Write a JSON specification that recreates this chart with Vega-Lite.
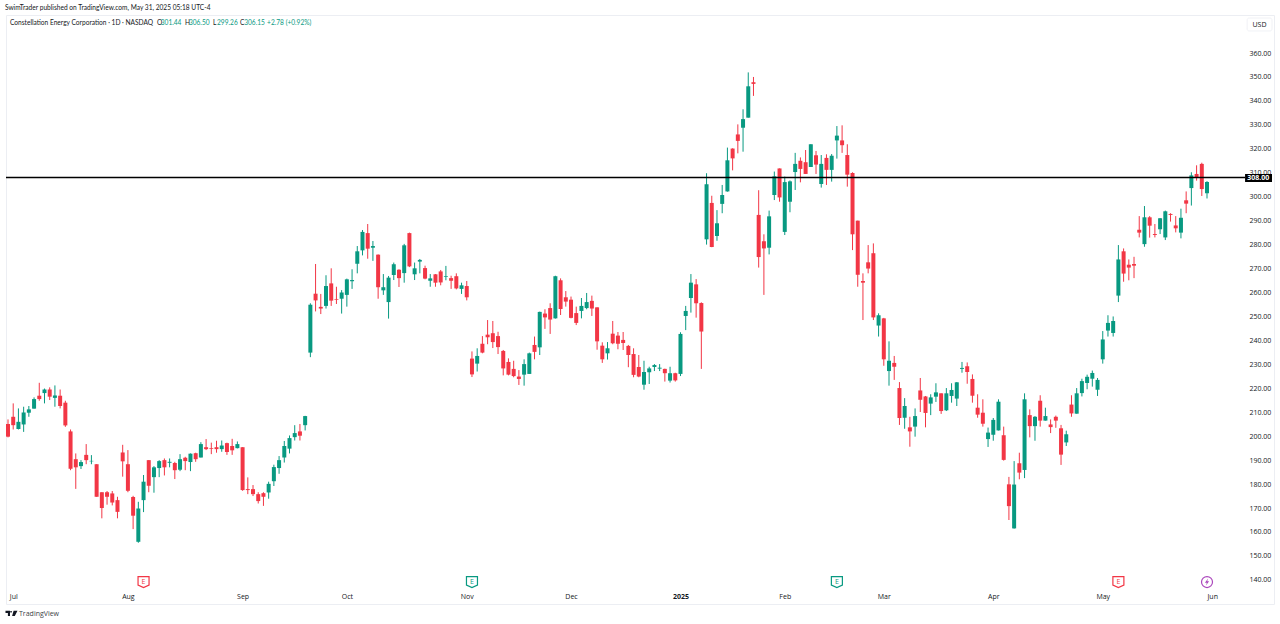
{"$schema":"https://vega.github.io/schema/vega-lite/v6.json","autosize":{"type":"none"},"padding":{"left":6,"top":15,"right":6,"bottom":20},"width":1268,"height":589,"background":"#ffffff","view":{"stroke":"#eceef3"},"config":{"font":"Open Sans"},
"datasets":{"ohlc":[
{"bar":0,"open":205.1,"high":207.0,"low":199.5,"close":199.8},{"bar":1,"open":208.1,"high":213.7,"low":202.8,"close":204.6},{"bar":2,"open":203.0,"high":211.6,"low":202.8,"close":206.0},{"bar":3,"open":204.9,"high":212.3,"low":201.8,"close":209.9},{"bar":4,"open":209.8,"high":212.6,"low":208.1,"close":211.2},{"bar":5,"open":211.5,"high":216.2,"low":211.5,"close":215.5},{"bar":6,"open":216.9,"high":222.3,"low":214.8,"close":215.5},{"bar":7,"open":218.0,"high":219.9,"low":213.7,"close":219.5},{"bar":8,"open":219.5,"high":220.4,"low":215.1,"close":216.5},{"bar":9,"open":216.0,"high":221.2,"low":212.3,"close":217.0},
{"bar":10,"open":216.9,"high":219.5,"low":211.6,"close":212.6},{"bar":11,"open":214.0,"high":214.8,"low":203.9,"close":204.5},{"bar":12,"open":202.0,"high":202.8,"low":185.8,"close":186.4},{"bar":13,"open":190.4,"high":192.8,"low":178.0,"close":187.0},{"bar":14,"open":187.5,"high":190.0,"low":186.3,"close":189.2},{"bar":15,"open":192.2,"high":196.7,"low":188.3,"close":190.0},{"bar":16,"open":189.5,"high":192.1,"low":188.3,"close":189.7},{"bar":17,"open":188.3,"high":188.3,"low":174.7,"close":174.7},{"bar":18,"open":176.6,"high":176.6,"low":165.7,"close":170.0},{"bar":19,"open":176.6,"high":177.1,"low":171.4,"close":174.7},
{"bar":20,"open":176.1,"high":177.1,"low":171.1,"close":172.3},{"bar":21,"open":173.3,"high":174.7,"low":165.7,"close":168.4},{"bar":22,"open":193.2,"high":196.4,"low":183.1,"close":189.5},{"bar":23,"open":188.3,"high":194.2,"low":176.6,"close":177.2},{"bar":24,"open":174.6,"high":175.1,"low":161.2,"close":166.8},{"bar":25,"open":155.9,"high":172.6,"low":155.5,"close":169.8},{"bar":26,"open":173.3,"high":183.8,"low":168.3,"close":181.0},{"bar":27,"open":190.0,"high":190.0,"low":176.6,"close":179.3},{"bar":28,"open":182.9,"high":187.5,"low":176.4,"close":187.0},{"bar":29,"open":186.7,"high":190.0,"low":182.9,"close":189.6},
{"bar":30,"open":190.0,"high":190.7,"low":183.6,"close":187.0},{"bar":31,"open":188.9,"high":190.7,"low":187.0,"close":189.3},{"bar":32,"open":188.8,"high":189.3,"low":182.1,"close":185.8},{"bar":33,"open":186.0,"high":192.5,"low":185.4,"close":190.4},{"bar":34,"open":191.0,"high":191.4,"low":185.8,"close":189.6},{"bar":35,"open":189.2,"high":192.8,"low":185.4,"close":192.7},{"bar":36,"open":192.9,"high":193.1,"low":189.3,"close":190.4},{"bar":37,"open":191.1,"high":197.5,"low":191.1,"close":196.7},{"bar":38,"open":195.4,"high":198.8,"low":194.2,"close":194.6},{"bar":39,"open":195.0,"high":197.3,"low":192.5,"close":194.7},
{"bar":40,"open":195.4,"high":198.1,"low":193.1,"close":194.6},{"bar":41,"open":194.6,"high":198.2,"low":193.5,"close":196.1},{"bar":42,"open":197.1,"high":197.3,"low":192.2,"close":193.4},{"bar":43,"open":195.9,"high":198.9,"low":192.2,"close":194.1},{"bar":44,"open":195.0,"high":197.8,"low":194.9,"close":196.7},{"bar":45,"open":195.4,"high":195.4,"low":177.2,"close":177.5},{"bar":46,"open":177.9,"high":182.8,"low":175.8,"close":177.5},{"bar":47,"open":177.9,"high":179.6,"low":175.0,"close":175.8},{"bar":48,"open":175.8,"high":176.6,"low":171.9,"close":172.9},{"bar":49,"open":176.2,"high":176.6,"low":170.9,"close":174.7},
{"bar":50,"open":176.5,"high":181.0,"low":173.9,"close":180.1},{"bar":51,"open":181.2,"high":188.1,"low":179.2,"close":187.1},{"bar":52,"open":186.7,"high":191.7,"low":184.3,"close":190.0},{"bar":53,"open":191.1,"high":198.0,"low":189.0,"close":195.9},{"bar":54,"open":194.8,"high":200.3,"low":192.8,"close":199.2},{"bar":55,"open":199.6,"high":204.6,"low":198.2,"close":201.3},{"bar":56,"open":202.0,"high":205.1,"low":198.2,"close":200.2},{"bar":57,"open":204.6,"high":208.5,"low":202.4,"close":208.4},{"bar":58,"open":234.9,"high":255.5,"low":233.0,"close":254.9},{"bar":59,"open":259.5,"high":271.9,"low":252.1,"close":256.7},
{"bar":60,"open":254.0,"high":259.4,"low":251.0,"close":253.3},{"bar":61,"open":254.4,"high":267.2,"low":253.3,"close":262.7},{"bar":62,"open":263.8,"high":270.1,"low":254.4,"close":256.6},{"bar":63,"open":257.3,"high":262.4,"low":255.2,"close":257.0},{"bar":64,"open":257.4,"high":261.0,"low":251.2,"close":260.0},{"bar":65,"open":259.0,"high":265.8,"low":254.1,"close":265.5},{"bar":66,"open":264.7,"high":269.7,"low":261.5,"close":265.2},{"bar":67,"open":272.0,"high":279.4,"low":268.0,"close":277.2},{"bar":68,"open":277.6,"high":286.1,"low":275.5,"close":285.3},{"bar":69,"open":284.8,"high":288.6,"low":274.1,"close":278.3},
{"bar":70,"open":278.7,"high":281.5,"low":273.2,"close":279.4},{"bar":71,"open":275.8,"high":275.9,"low":257.4,"close":262.2},{"bar":72,"open":260.9,"high":267.7,"low":259.0,"close":262.2},{"bar":73,"open":256.0,"high":266.9,"low":249.1,"close":266.2},{"bar":74,"open":267.3,"high":272.5,"low":265.2,"close":271.8},{"bar":75,"open":269.5,"high":269.7,"low":262.3,"close":266.0},{"bar":76,"open":268.1,"high":280.3,"low":264.1,"close":279.7},{"bar":77,"open":284.8,"high":285.0,"low":270.6,"close":270.9},{"bar":78,"open":267.6,"high":272.5,"low":265.2,"close":270.1},{"bar":79,"open":272.9,"high":274.0,"low":268.0,"close":273.6},
{"bar":80,"open":270.2,"high":271.2,"low":265.5,"close":265.8},{"bar":81,"open":264.9,"high":267.7,"low":262.4,"close":265.9},{"bar":82,"open":267.6,"high":267.7,"low":262.4,"close":264.1},{"bar":83,"open":268.8,"high":269.4,"low":263.0,"close":264.2},{"bar":84,"open":266.6,"high":271.1,"low":265.1,"close":266.9},{"bar":85,"open":266.0,"high":267.0,"low":261.5,"close":264.9},{"bar":86,"open":266.8,"high":268.0,"low":261.3,"close":261.7},{"bar":87,"open":261.5,"high":264.1,"low":259.4,"close":263.0},{"bar":88,"open":262.7,"high":264.8,"low":256.7,"close":258.0},{"bar":89,"open":232.4,"high":235.4,"low":224.7,"close":225.8},
{"bar":90,"open":230.3,"high":236.7,"low":227.0,"close":233.5},{"bar":91,"open":238.6,"high":241.8,"low":234.6,"close":234.9},{"bar":92,"open":242.4,"high":248.5,"low":238.4,"close":241.3},{"bar":93,"open":243.0,"high":248.1,"low":236.8,"close":239.3},{"bar":94,"open":241.8,"high":243.6,"low":234.3,"close":237.2},{"bar":95,"open":235.6,"high":236.0,"low":225.4,"close":228.3},{"bar":96,"open":231.0,"high":232.5,"low":225.4,"close":225.7},{"bar":97,"open":228.1,"high":231.5,"low":224.6,"close":225.1},{"bar":98,"open":224.9,"high":227.6,"low":221.4,"close":223.9},{"bar":99,"open":225.7,"high":232.1,"low":221.1,"close":230.1},
{"bar":100,"open":226.0,"high":234.9,"low":226.0,"close":234.6},{"bar":101,"open":238.1,"high":241.6,"low":232.1,"close":235.2},{"bar":102,"open":237.1,"high":252.0,"low":233.9,"close":251.9},{"bar":103,"open":251.2,"high":253.0,"low":244.8,"close":249.6},{"bar":104,"open":253.5,"high":255.5,"low":242.7,"close":248.7},{"bar":105,"open":249.2,"high":267.0,"low":249.1,"close":266.8},{"bar":106,"open":265.1,"high":265.9,"low":250.6,"close":253.1},{"bar":107,"open":258.0,"high":260.6,"low":254.1,"close":256.2},{"bar":108,"open":257.0,"high":258.3,"low":249.2,"close":249.4},{"bar":109,"open":251.4,"high":254.1,"low":246.4,"close":247.3},
{"bar":110,"open":252.3,"high":257.7,"low":249.2,"close":254.4},{"bar":111,"open":253.5,"high":259.8,"low":253.0,"close":256.0},{"bar":112,"open":256.5,"high":258.7,"low":250.2,"close":253.3},{"bar":113,"open":253.8,"high":253.8,"low":236.1,"close":239.6},{"bar":114,"open":237.8,"high":239.2,"low":230.6,"close":232.1},{"bar":115,"open":234.6,"high":239.3,"low":232.0,"close":236.7},{"bar":116,"open":242.8,"high":248.1,"low":238.4,"close":238.8},{"bar":117,"open":242.0,"high":243.5,"low":236.3,"close":238.6},{"bar":118,"open":240.2,"high":243.5,"low":236.0,"close":238.9},{"bar":119,"open":237.7,"high":238.1,"low":228.8,"close":233.9},
{"bar":120,"open":234.3,"high":236.7,"low":224.6,"close":225.6},{"bar":121,"open":228.9,"high":233.9,"low":224.6,"close":224.9},{"bar":122,"open":221.5,"high":231.5,"low":219.4,"close":226.8},{"bar":123,"open":226.7,"high":229.0,"low":221.8,"close":228.3},{"bar":124,"open":228.9,"high":230.1,"low":227.2,"close":229.7},{"bar":125,"open":228.2,"high":230.1,"low":227.2,"close":228.6},{"bar":126,"open":228.1,"high":228.2,"low":222.8,"close":226.3},{"bar":127,"open":223.2,"high":229.0,"low":222.4,"close":226.3},{"bar":128,"open":226.3,"high":226.5,"low":222.8,"close":223.3},{"bar":129,"open":226.0,"high":243.4,"low":225.1,"close":242.7},
{"bar":130,"open":250.2,"high":254.4,"low":244.3,"close":252.3},{"bar":131,"open":257.7,"high":267.7,"low":251.6,"close":264.1},{"bar":132,"open":263.4,"high":265.6,"low":249.5,"close":255.5},{"bar":133,"open":255.6,"high":255.9,"low":228.1,"close":243.7},{"bar":134,"open":282.2,"high":309.8,"low":280.0,"close":305.2},{"bar":135,"open":297.4,"high":300.4,"low":278.9,"close":279.0},{"bar":136,"open":283.6,"high":294.4,"low":281.6,"close":288.9},{"bar":137,"open":297.0,"high":304.9,"low":293.1,"close":300.7},{"bar":138,"open":302.2,"high":320.5,"low":302.1,"close":315.2},{"bar":139,"open":320.1,"high":320.2,"low":311.0,"close":316.0},
{"bar":140,"open":326.0,"high":330.2,"low":318.1,"close":323.3},{"bar":141,"open":328.8,"high":336.5,"low":318.8,"close":332.4},{"bar":142,"open":333.0,"high":351.9,"low":333.0,"close":346.1},{"bar":143,"open":347.8,"high":350.0,"low":342.1,"close":347.1},{"bar":144,"open":292.4,"high":302.7,"low":270.4,"close":274.8},{"bar":145,"open":281.4,"high":284.3,"low":259.0,"close":278.4},{"bar":146,"open":278.7,"high":294.2,"low":275.9,"close":291.8},{"bar":147,"open":300.7,"high":310.5,"low":298.6,"close":308.5},{"bar":148,"open":311.8,"high":311.8,"low":297.9,"close":299.7},{"bar":149,"open":285.3,"high":308.4,"low":284.0,"close":306.1},
{"bar":150,"open":297.9,"high":306.8,"low":293.5,"close":306.4},{"bar":151,"open":310.3,"high":318.3,"low":302.8,"close":313.7},{"bar":152,"open":315.0,"high":316.4,"low":306.0,"close":311.6},{"bar":153,"open":314.4,"high":319.5,"low":309.5,"close":309.5},{"bar":154,"open":312.4,"high":321.9,"low":312.4,"close":321.9},{"bar":155,"open":317.3,"high":319.1,"low":309.5,"close":313.4},{"bar":156,"open":305.3,"high":317.4,"low":303.8,"close":313.7},{"bar":157,"open":316.2,"high":317.7,"low":304.9,"close":311.2},{"bar":158,"open":311.2,"high":317.8,"low":306.3,"close":317.1},{"bar":159,"open":323.5,"high":329.5,"low":315.9,"close":325.5},
{"bar":160,"open":323.5,"high":329.8,"low":318.3,"close":321.5},{"bar":161,"open":317.4,"high":321.9,"low":304.2,"close":309.2},{"bar":162,"open":309.9,"high":310.2,"low":277.7,"close":284.3},{"bar":163,"open":290.0,"high":290.0,"low":262.4,"close":267.4},{"bar":164,"open":264.8,"high":268.0,"low":248.5,"close":264.1},{"bar":165,"open":272.6,"high":279.8,"low":268.0,"close":270.0},{"bar":166,"open":276.4,"high":280.5,"low":248.5,"close":249.6},{"bar":167,"open":246.2,"high":251.3,"low":241.6,"close":250.5},{"bar":168,"open":249.2,"high":249.4,"low":229.4,"close":232.1},{"bar":169,"open":227.2,"high":239.6,"low":221.1,"close":231.5},
{"bar":170,"open":230.6,"high":233.5,"low":223.5,"close":229.0},{"bar":171,"open":220.1,"high":222.6,"low":204.7,"close":207.6},{"bar":172,"open":207.7,"high":215.9,"low":203.1,"close":212.6},{"bar":173,"open":203.7,"high":208.1,"low":195.6,"close":202.0},{"bar":174,"open":204.0,"high":211.6,"low":199.8,"close":208.4},{"bar":175,"open":219.1,"high":224.3,"low":210.1,"close":215.2},{"bar":176,"open":216.6,"high":216.8,"low":203.7,"close":209.7},{"bar":177,"open":213.6,"high":217.5,"low":208.8,"close":216.2},{"bar":178,"open":216.5,"high":222.1,"low":214.3,"close":218.3},{"bar":179,"open":217.9,"high":217.9,"low":209.3,"close":210.5},
{"bar":180,"open":210.8,"high":220.1,"low":210.5,"close":217.9},{"bar":181,"open":216.8,"high":222.1,"low":214.0,"close":219.3},{"bar":182,"open":215.7,"high":222.6,"low":212.6,"close":222.5},{"bar":183,"open":228.1,"high":231.0,"low":226.5,"close":228.5},{"bar":184,"open":229.2,"high":230.8,"low":221.9,"close":226.8},{"bar":185,"open":223.9,"high":225.8,"low":214.0,"close":216.9},{"bar":186,"open":211.9,"high":217.5,"low":207.7,"close":209.0},{"bar":187,"open":209.8,"high":215.4,"low":204.0,"close":205.2},{"bar":188,"open":198.8,"high":203.6,"low":195.5,"close":201.5},{"bar":189,"open":200.6,"high":207.6,"low":198.1,"close":206.8},
{"bar":190,"open":202.4,"high":215.4,"low":202.4,"close":214.4},{"bar":191,"open":200.4,"high":204.0,"low":189.8,"close":190.1},{"bar":192,"open":179.9,"high":183.0,"low":165.0,"close":170.8},{"bar":193,"open":161.5,"high":189.6,"low":161.4,"close":179.8},{"bar":194,"open":188.7,"high":193.1,"low":182.0,"close":184.8},{"bar":195,"open":185.9,"high":217.9,"low":182.5,"close":215.4},{"bar":196,"open":208.8,"high":211.2,"low":199.5,"close":204.2},{"bar":197,"open":204.2,"high":208.4,"low":198.1,"close":208.1},{"bar":198,"open":214.8,"high":217.1,"low":204.0,"close":206.5},{"bar":199,"open":206.5,"high":211.9,"low":206.5,"close":208.4},
{"bar":200,"open":204.9,"high":207.0,"low":201.3,"close":203.8},{"bar":201,"open":208.1,"high":208.6,"low":203.5,"close":206.5},{"bar":202,"open":203.3,"high":204.7,"low":188.0,"close":192.3},{"bar":203,"open":197.4,"high":202.3,"low":195.9,"close":200.8},{"bar":204,"open":213.2,"high":217.1,"low":208.1,"close":209.5},{"bar":205,"open":209.4,"high":220.1,"low":209.4,"close":217.9},{"bar":206,"open":218.0,"high":224.0,"low":216.6,"close":223.0},{"bar":207,"open":222.2,"high":225.7,"low":219.6,"close":224.8},{"bar":208,"open":224.0,"high":227.4,"low":220.7,"close":226.4},{"bar":209,"open":219.4,"high":224.3,"low":216.8,"close":223.5},
{"bar":210,"open":232.1,"high":243.9,"low":230.3,"close":240.4},{"bar":211,"open":244.1,"high":250.5,"low":241.6,"close":247.3},{"bar":212,"open":243.1,"high":250.0,"low":241.6,"close":248.1},{"bar":213,"open":258.7,"high":279.8,"low":256.0,"close":273.8},{"bar":214,"open":277.2,"high":278.4,"low":264.5,"close":267.9},{"bar":215,"open":271.6,"high":273.8,"low":265.1,"close":270.4},{"bar":216,"open":271.9,"high":274.9,"low":266.0,"close":271.2},{"bar":217,"open":286.2,"high":291.9,"low":283.0,"close":285.0},{"bar":218,"open":280.2,"high":296.1,"low":279.1,"close":291.4},{"bar":219,"open":291.4,"high":291.9,"low":282.9,"close":287.9},
{"bar":220,"open":284.4,"high":288.6,"low":283.0,"close":284.0},{"bar":221,"open":286.4,"high":291.1,"low":284.4,"close":291.0},{"bar":222,"open":283.0,"high":294.2,"low":281.9,"close":293.9},{"bar":223,"open":292.8,"high":293.1,"low":289.6,"close":292.4},{"bar":224,"open":288.0,"high":291.9,"low":285.1,"close":286.8},{"bar":225,"open":285.0,"high":295.0,"low":282.6,"close":291.2},{"bar":226,"open":298.5,"high":302.2,"low":293.1,"close":297.1},{"bar":227,"open":303.6,"high":310.2,"low":296.3,"close":308.9},{"bar":228,"open":309.5,"high":313.1,"low":306.7,"close":307.9},{"bar":229,"open":313.7,"high":314.2,"low":300.3,"close":303.2},
{"bar":230,"open":301.44,"high":306.5,"low":299.26,"close":306.15}
]},
"layer":[
{"data":{"name":"ohlc"},"mark":{"type":"rule","strokeWidth":1},"encoding":{
"x":{"field":"bar","type":"quantitative","title":null,"scale":{"domain":[-0.384,242.85],"nice":false,"zero":false,"padding":0},"axis":{"orient":"bottom","grid":false,"domain":false,"ticks":false,"title":null,"values":[1,23,45,65,88,108,129,149,168,189,210,231],"labelExpr":"{'1':'Jul','23':'Aug','45':'Sep','65':'Oct','88':'Nov','108':'Dec','129':'2025','149':'Feb','168':'Mar','189':'Apr','210':'May','231':'Jun'}[datum.value]","labelPadding":-8,"labelBaseline":"middle","labelAlign":"center","labelFontSize":7,"labelColor":"#131722","labelFont":"Open Sans","labelOverlap":false,"labelBound":false,"labelFlush":false,"labelFontWeight":{"expr":"datum.value==129?'bold':'normal'"}}},
"y":{"field":"low","type":"quantitative","title":null,"scale":{"domain":[129.93,375.87],"nice":false,"zero":false,"padding":0},"axis":{"orient":"right","grid":false,"domain":false,"ticks":false,"title":null,"values":[140,150,160,170,180,190,200,210,220,230,240,250,260,270,280,290,300,310,320,330,340,350,360],"tickCount":23,"format":".2f","labelPadding":-25,"labelAlign":"left","labelBaseline":"middle","labelFontSize":7,"labelColor":"#131722","labelFont":"Open Sans"}},
"y2":{"field":"high"},
"color":{"condition":{"test":"datum.close>=datum.open","value":"#089981"},"value":"#f23645"}}},
{"data":{"name":"ohlc"},"mark":{"type":"bar","orient":"vertical","width":4,"cornerRadius":0},"encoding":{
"x":{"field":"bar","type":"quantitative"},
"y":{"field":"open","type":"quantitative"},
"y2":{"field":"close"},
"color":{"condition":{"test":"datum.close>=datum.open","value":"#089981"},"value":"#f23645"}}},
{"data":{"values":[{"from":-0.384,"to":237.3,"price":308}]},"mark":{"type":"rule","color":"#000000","strokeWidth":1.4},"encoding":{"x":{"field":"from","type":"quantitative"},"x2":{"field":"to"},"y":{"field":"price","type":"quantitative"}}},
{"data":{"values":[{"from":237.3,"to":242.47,"low":306.14,"high":309.48}]},"mark":{"type":"rect","color":"#000000"},"encoding":{"x":{"field":"from","type":"quantitative"},"x2":{"field":"to"},"y":{"field":"low","type":"quantitative"},"y2":{"field":"high"}}},
{"data":{"values":[{"from":237.7,"to":242.47,"low":369.2,"high":374.6}]},"mark":{"type":"rect","fill":"#ffffff","stroke":"#eceef3","strokeWidth":0.8,"cornerRadius":2},"encoding":{"x":{"field":"from","type":"quantitative"},"x2":{"field":"to"},"y":{"field":"low","type":"quantitative"},"y2":{"field":"high"}}},
{"data":{"values":[{"label":"308.00","bar":239.85,"price":307.75}]},"mark":{"type":"text","color":"#ffffff","fontSize":7,"fontWeight":"bold","font":"Open Sans","align":"center","baseline":"middle"},"encoding":{"x":{"field":"bar","type":"quantitative"},"y":{"field":"price","type":"quantitative"},"text":{"field":"label"}}},
{"data":{"values":[{"label":"USD","bar":240.07,"price":371.7}]},"mark":{"type":"text","color":"#131722","fontSize":7,"font":"Open Sans","align":"center","baseline":"middle"},"encoding":{"x":{"field":"bar","type":"quantitative"},"y":{"field":"price","type":"quantitative"},"text":{"field":"label"}}},
{"data":{"values":[{"label":"SwimTrader published on TradingView.com, May 31, 2025 05:18 UTC-4","bar":-0.58,"price":378.8},{"label":"Constellation Energy Corporation · 1D · NASDAQ","bar":0.38,"price":372.5},{"label":"O","bar":28.6,"price":372.5},{"label":"H","bar":33.96,"price":372.5},{"label":"L","bar":39.3,"price":372.5},{"label":"C","bar":44.5,"price":372.5}]},"mark":{"type":"text","color":"#131722","fontSize":6.6,"font":"Lato","align":"left","baseline":"middle"},"encoding":{"x":{"field":"bar","type":"quantitative"},"y":{"field":"price","type":"quantitative"},"text":{"field":"label"}}},
{"data":{"values":[{"label":"301.44","bar":29.3,"price":372.5},{"label":"306.50","bar":34.7,"price":372.5},{"label":"299.26","bar":40.1,"price":372.5},{"label":"306.15","bar":45.3,"price":372.5},{"label":"+2.78 (+0.92%)","bar":49.7,"price":372.5}]},"mark":{"type":"text","color":"#089981","fontSize":6.6,"font":"Lato","align":"left","baseline":"middle"},"encoding":{"x":{"field":"bar","type":"quantitative"},"y":{"field":"price","type":"quantitative"},"text":{"field":"label"}}},
{"data":{"values":[{"label":"TradingView","bar":2.11,"price":125.8}]},"mark":{"type":"text","color":"#3c3f47","fontSize":7,"font":"Open Sans","align":"left","baseline":"middle"},"encoding":{"x":{"field":"bar","type":"quantitative"},"y":{"field":"price","type":"quantitative"},"text":{"field":"label"}}},
{"data":{"values":[{"bar":0.67,"price":126}]},"mark":{"type":"point","filled":true,"opacity":1,"size":144,"color":"#131722","shape":"M-1,-0.45 L-0.25,-0.45 L-0.25,0.45 L-0.6,0.45 L-0.6,-0.05 L-1,-0.05 Z M-0.2,-0.4 L0.05,-0.4 L0.05,-0.15 L-0.2,-0.15 Z M0.35,-0.45 L1,-0.45 L0.55,0.45 L0.1,0.45 Z"},"encoding":{"x":{"field":"bar","type":"quantitative"},"y":{"field":"price","type":"quantitative"}}},
{"data":{"values":[{"bar":26,"price":139.1,"kind":"loss"},{"bar":213,"price":139.1,"kind":"loss"},{"bar":89,"price":139.1,"kind":"beat"},{"bar":159,"price":139.1,"kind":"beat"}]},"mark":{"type":"point","filled":true,"opacity":1,"fill":"#ffffff","strokeWidth":1.2,"size":121,"shape":"M-1,-1 L1,-1 L1,0.55 L0,1 L-1,0.55 Z"},"encoding":{"x":{"field":"bar","type":"quantitative"},"y":{"field":"price","type":"quantitative"},"stroke":{"field":"kind","type":"nominal","legend":null,"scale":{"domain":["loss","beat"],"range":["#f23645","#089981"]}}}},
{"data":{"values":[{"bar":26,"price":139.1,"kind":"loss","label":"E"},{"bar":213,"price":139.1,"kind":"loss","label":"E"},{"bar":89,"price":139.1,"kind":"beat","label":"E"},{"bar":159,"price":139.1,"kind":"beat","label":"E"}]},"mark":{"type":"text","fontSize":7,"font":"Open Sans","align":"center","baseline":"middle"},"encoding":{"x":{"field":"bar","type":"quantitative"},"y":{"field":"price","type":"quantitative"},"text":{"field":"label"},"color":{"field":"kind","type":"nominal","legend":null,"scale":{"domain":["loss","beat"],"range":["#f23645","#089981"]}}}},
{"data":{"values":[{"bar":230,"price":139.1}]},"mark":{"type":"point","filled":true,"opacity":1,"fill":"#ffffff","stroke":"#ab47bc","strokeWidth":1.2,"size":121,"shape":"circle"},"encoding":{"x":{"field":"bar","type":"quantitative"},"y":{"field":"price","type":"quantitative"}}},
{"data":{"values":[{"bar":230,"price":139.1}]},"mark":{"type":"point","filled":true,"opacity":1,"color":"#ab47bc","size":49,"shape":"M0.3,-1 L-0.6,0.2 L-0.05,0.2 L-0.3,1 L0.6,-0.2 L0.05,-0.2 Z"},"encoding":{"x":{"field":"bar","type":"quantitative"},"y":{"field":"price","type":"quantitative"}}}
]}
